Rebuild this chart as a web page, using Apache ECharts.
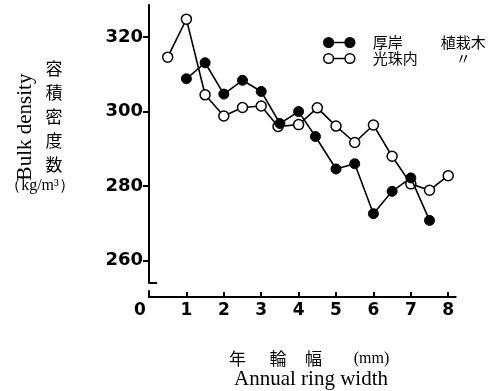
<!DOCTYPE html>
<html><head><meta charset="utf-8">
<script src="https://cdn.jsdelivr.net/npm/echarts@6/dist/echarts.min.js"></script>
<style>html,body{margin:0;padding:0;background:#fff}#c{width:492px;height:391px}</style>
</head><body><div id="c"></div>
<script>
// ---- data ----
const xTicks = [0, 1, 2, 3, 4, 5, 6, 7, 8];
const yTicks = [260, 280, 300, 320];
const akkeshiX = [1, 1.5, 2, 2.5, 3, 3.5, 4, 4.45, 5, 5.5, 6, 6.5, 7, 7.5];
const akkeshiY = [308.8, 313.1, 304.7, 308.4, 305.4, 296.8, 300, 293.3, 284.6, 286, 272.6, 278.6, 282.2, 270.8];
const koshunaiX = [0.5, 1, 1.5, 2, 2.5, 3, 3.45, 4, 4.5, 5, 5.5, 6, 6.5, 7, 7.5, 8];
const koshunaiY = [314.6, 324.8, 304.5, 298.8, 301.1, 301.5, 296, 296.5, 301, 296.1, 291.7, 296.4, 288, 280.6, 278.9, 282.8];
const seriesNames = ['厚岸', '光珠内'];
const seriesNote = ['植栽木', '〃'];

const chart = echarts.init(document.getElementById('c'));
const zip = (xs, ys) => xs.map((x, i) => [x, ys[i]]);
const iconPath = 'path://M0,5a5,5 0 1,0 10,0a5,5 0 1,0 -10,0Z M22,5a5,5 0 1,0 10,0a5,5 0 1,0 -10,0Z M10,5L22,5';
const numFont = 'DejaVu Sans';
const cjk = 'Noto Sans CJK JP';

const option = {
  animation: false,
  backgroundColor: '#fff',
  grid: [
    {left: 149, right: 36.3, top: 5, bottom: 108},
    {left: 149, right: 36.3, top: 291, bottom: 94}
  ],
  xAxis: [
    {gridIndex: 0, type: 'value', min: 0, max: 8.2, show: false},
    {gridIndex: 1, type: 'value', min: 0, max: 8.2, position: 'bottom',
      axisLine: {show: true, lineStyle: {color: '#000', width: 2}},
      axisTick: {show: true, inside: true, length: 5, customValues: xTicks, lineStyle: {color: '#000', width: 2}},
      axisLabel: {customValues: xTicks, margin: 5, color: '#000', fontFamily: numFont, fontWeight: 'bold', fontSize: 17,
        formatter: v => v === 0 ? '{z|0}' : String(v),
        rich: {z: {padding: [0, 18, 0, 0], fontFamily: numFont, fontWeight: 'bold', fontSize: 17, color: '#000'}}},
      splitLine: {show: false}}
  ],
  yAxis: [
    {gridIndex: 0, type: 'value', min: 254, max: 328.6,
      axisLine: {show: true, lineStyle: {color: '#000', width: 2}},
      axisTick: {show: true, length: 6, customValues: yTicks, lineStyle: {color: '#000', width: 2}},
      axisLabel: {customValues: yTicks, margin: 6, color: '#000', fontFamily: numFont, fontWeight: 'bold', fontSize: 18},
      splitLine: {show: false}},
    {gridIndex: 1, type: 'value', min: 0, max: 1,
      axisLine: {show: true, lineStyle: {color: '#000', width: 2}},
      axisTick: {show: false}, axisLabel: {show: false}, splitLine: {show: false}}
  ],
  legend: {
    orient: 'vertical', left: 323, top: 35, padding: 0, itemWidth: 31, itemHeight: 10, itemGap: 1,
    icon: iconPath,
    data: [
      {name: seriesNames[0], itemStyle: {color: '#000', borderColor: '#000', borderWidth: 1.5}},
      {name: seriesNames[1], itemStyle: {color: '#fff', borderColor: '#000', borderWidth: 1.5}}
    ],
    formatter: n => '{a|' + n + '}{b|' + seriesNote[seriesNames.indexOf(n)] + '}',
    textStyle: {
      rich: {
        a: {fontFamily: cjk, fontSize: 15, lineHeight: 16, color: '#000', width: 66, padding: [0, 0, 0, 13]},
        b: {fontFamily: cjk, fontSize: 15, lineHeight: 16, color: '#000', width: 49, align: 'center'}
      }
    }
  },
  series: [
    {name: seriesNames[0], type: 'line', xAxisIndex: 0, yAxisIndex: 0, data: zip(akkeshiX, akkeshiY),
      symbol: 'circle', symbolSize: 10,
      itemStyle: {color: '#000', borderColor: '#000', borderWidth: 1},
      lineStyle: {color: '#000', width: 1.6}, z: 3},
    {name: seriesNames[1], type: 'line', xAxisIndex: 0, yAxisIndex: 0, data: zip(koshunaiX, koshunaiY),
      symbol: 'circle', symbolSize: 10,
      itemStyle: {color: '#fff', borderColor: '#000', borderWidth: 1.5},
      lineStyle: {color: '#000', width: 1.6}, z: 2}
  ]
};
chart.setOption(option);

const corner = chart.convertToPixel({gridIndex: 0}, [0, 254]);
const g = [
  {type: 'line', shape: {x1: corner[0], y1: corner[1], x2: corner[0] + 8, y2: corner[1]}, style: {stroke: '#000', lineWidth: 2}},
  {type: 'text', x: 25, y: 127, rotation: Math.PI / 2, style: {text: 'Bulk density', font: '21px "Liberation Serif"', fill: '#000', align: 'center', verticalAlign: 'middle'}},
  {type: 'text', x: 54, y: 56.5, style: {text: '容\n積\n密\n度\n数', font: '17px "Noto Sans CJK JP"', lineHeight: 24, fill: '#000', align: 'center', verticalAlign: 'top'}},
  {type: 'text', x: 40, y: 186, style: {text: '（kg/m³）', font: '16px "Liberation Serif"', fill: '#000', align: 'center', verticalAlign: 'middle'}},
  {type: 'text', x: 237.5, y: 358.5, style: {text: '年', font: '17px "Noto Sans CJK JP"', fill: '#000', align: 'center', verticalAlign: 'middle'}},
  {type: 'text', x: 278, y: 358.5, style: {text: '輪', font: '17px "Noto Sans CJK JP"', fill: '#000', align: 'center', verticalAlign: 'middle'}},
  {type: 'text', x: 313.5, y: 358.5, style: {text: '幅', font: '17px "Noto Sans CJK JP"', fill: '#000', align: 'center', verticalAlign: 'middle'}},
  {type: 'text', x: 371.5, y: 358.5, style: {text: '(mm)', font: '16px "Liberation Serif"', fill: '#000', align: 'center', verticalAlign: 'middle'}},
  {type: 'text', x: 311, y: 379, style: {text: 'Annual ring width', font: '21px "Liberation Serif"', fill: '#000', align: 'center', verticalAlign: 'middle'}}
];
chart.setOption({graphic: g});
</script>
</body></html>
